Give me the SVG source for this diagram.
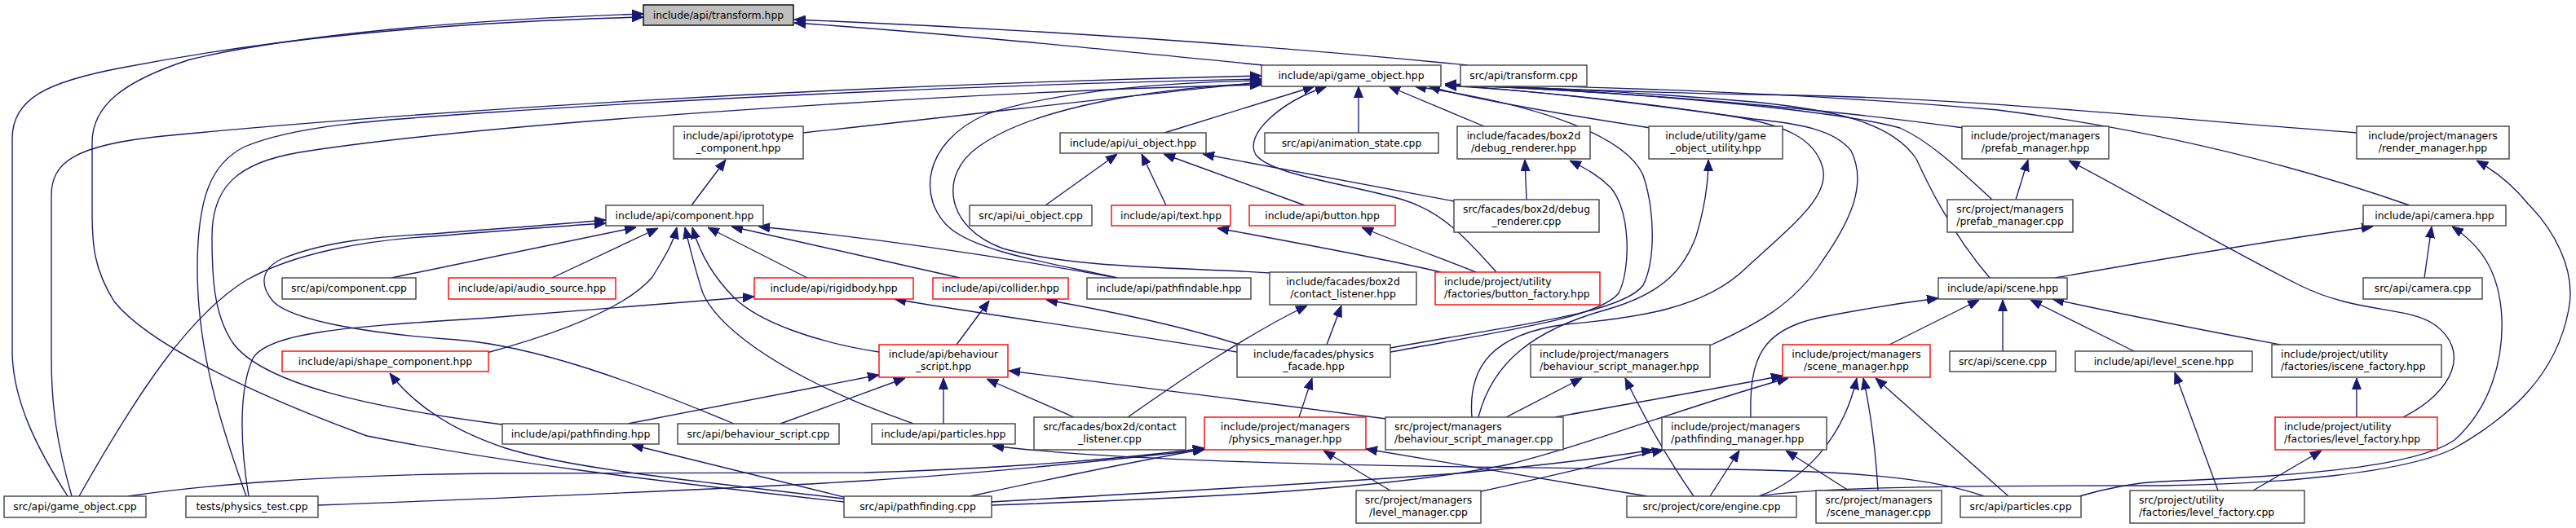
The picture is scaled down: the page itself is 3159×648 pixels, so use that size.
<svg xmlns="http://www.w3.org/2000/svg" width="3159" height="648" viewBox="0 0 3159 648">
<style>
.node rect{fill:#ffffff;stroke:#404040;stroke-width:1.4}
.node.red rect{stroke:#ff0000}
.node.root rect{fill:#bfbfbf;stroke:#000000}
.node text{font-family:"DejaVu Sans","Liberation Sans",sans-serif;font-size:12.4px;fill:#000000;text-anchor:middle}
.node text.l{text-anchor:start}
.edges path{fill:none;stroke:#191970;stroke-width:1.35}
</style>
<defs>
<marker id="ah" viewBox="0 0 14 12" refX="14" refY="6" markerWidth="14" markerHeight="12" markerUnits="userSpaceOnUse" orient="auto">
<path d="M0,0.5 L14,6 L0,11.5 z" fill="#191970" stroke="#191970" stroke-width="1"/>
</marker>
</defs>
<rect width="3159" height="648" fill="#ffffff"/>
<g class="edges">
<path marker-end="url(#ah)" d="M1549,80 C1350,60 1150,40 974,28"/>
<path marker-end="url(#ah)" d="M1800,80 C1550,55 1250,35 974,24"/>
<path marker-end="url(#ah)" d="M83,609 C45,550 15,490 15,430 L15,170 C15,120 60,100 150,83 C320,50 520,28 789,21"/>
<path marker-end="url(#ah)" d="M1035,616 C800,590 600,565 450,535 C300,480 180,420 140,370 C115,330 113,300 113,260 L113,175 C113,130 150,100 233,73 C350,45 550,25 789,17"/>
<path marker-end="url(#ah)" d="M88,609 C70,545 63,500 63,440 L63,240 C63,200 90,178 200,167 C500,138 1000,105 1547,93"/>
<path marker-end="url(#ah)" d="M302,609 C270,520 242,430 242,330 C242,240 260,200 300,180 C360,155 450,148 600,138 C900,118 1250,103 1547,97"/>
<path marker-end="url(#ah)" d="M616,521 C450,500 320,470 285,420 C262,385 260,340 260,290 C260,230 290,200 367,187 C600,150 1200,112 1547,104"/>
<path marker-end="url(#ah)" d="M985,163 C1200,140 1400,115 1547,101"/>
<path marker-end="url(#ah)" d="M1370,341 C1300,325 1200,310 1165,280 C1125,245 1130,175 1210,140 C1300,110 1450,100 1547,99"/>
<path marker-end="url(#ah)" d="M1558,335 C1450,328 1320,330 1230,305 C1160,280 1150,215 1200,180 C1270,130 1420,108 1547,102"/>
<path marker-end="url(#ah)" d="M1428,163 L1612,106"/>
<path marker-end="url(#ah)" d="M1666,163 L1666,106"/>
<path marker-end="url(#ah)" d="M1820,155 L1703,106"/>
<path marker-end="url(#ah)" d="M1783,247 L1475,189"/>
<path marker-end="url(#ah)" d="M1835,334 C1800,295 1770,260 1720,245 C1650,225 1560,215 1540,190 C1525,165 1570,125 1627,106"/>
<path marker-end="url(#ah)" d="M2024,157 C1900,138 1800,120 1752,106"/>
<path marker-end="url(#ah)" d="M1705,427 C1850,400 1990,385 2015,350 C2030,320 2030,260 2015,215 C1995,170 1900,130 1735,106"/>
<path marker-end="url(#ah)" d="M1705,432 C1850,405 1960,390 1985,360 C2000,330 2000,260 1975,230 C1960,215 1945,207 1925,197"/>
<path marker-end="url(#ah)" d="M1813,512 C1830,445 1880,405 1970,380 C2040,360 2065,330 2080,290 C2092,250 2095,220 2095,196"/>
<path marker-end="url(#ah)" d="M1805,512 C1800,450 1830,410 1920,398 C2010,390 2090,378 2140,330 C2200,275 2245,240 2235,205 C2225,170 2190,153 2120,142 C1990,122 1860,110 1772,105"/>
<path marker-end="url(#ah)" d="M2097,424 C2150,400 2200,375 2235,320 C2270,270 2290,225 2270,185 C2250,160 2210,152 2150,146 C2000,125 1860,110 1772,104"/>
<path marker-end="url(#ah)" d="M2408,157 C2250,135 2000,112 1772,104"/>
<path marker-end="url(#ah)" d="M2443,245 C2410,215 2370,175 2330,157 C2250,135 2000,112 1772,104"/>
<path marker-end="url(#ah)" d="M2890,163 C2650,145 2400,118 2150,116 C1950,112 1850,106 1772,104"/>
<path marker-end="url(#ah)" d="M2955,252 C2820,205 2650,160 2450,135 C2200,113 1950,106 1772,103"/>
<path marker-end="url(#ah)" d="M2440,341 C2405,300 2375,250 2350,195 C2320,150 2250,135 2150,125 C2000,112 1850,106 1772,104"/>
<path marker-end="url(#ah)" d="M848,252 L890,196"/>
<path marker-end="url(#ah)" d="M480,341 L780,279"/>
<path marker-end="url(#ah)" d="M677,341 L807,280"/>
<path marker-end="url(#ah)" d="M597,433 C700,405 770,375 800,340 C815,315 825,300 830,279"/>
<path marker-end="url(#ah)" d="M1120,520 C1080,505 1050,495 1000,470 C940,440 880,400 862,360 C852,330 845,300 840,279"/>
<path marker-end="url(#ah)" d="M1078,432 C1000,420 930,395 900,365 C875,340 858,310 849,279"/>
<path marker-end="url(#ah)" d="M990,341 L868,279"/>
<path marker-end="url(#ah)" d="M1177,341 L897,278"/>
<path marker-end="url(#ah)" d="M1370,341 C1200,310 1050,290 930,278"/>
<path marker-end="url(#ah)" d="M97,609 C170,480 230,390 300,345 C360,310 450,295 530,290 C620,283 690,277 743,274"/>
<path marker-end="url(#ah)" d="M900,520 C780,470 660,425 560,417 C460,410 360,395 335,370 C318,350 320,330 345,318 C400,295 470,290 530,287 C620,280 690,275 743,270"/>
<path marker-end="url(#ah)" d="M1282,252 L1370,189"/>
<path marker-end="url(#ah)" d="M1430,252 L1400,189"/>
<path marker-end="url(#ah)" d="M1600,252 L1427,189"/>
<path marker-end="url(#ah)" d="M1872,245 L1870,196"/>
<path marker-end="url(#ah)" d="M2472,245 L2487,196"/>
<path marker-end="url(#ah)" d="M1767,334 C1700,318 1600,300 1493,280"/>
<path marker-end="url(#ah)" d="M1810,334 C1770,318 1720,300 1670,279"/>
<path marker-end="url(#ah)" d="M1627,423 L1645,375"/>
<path marker-end="url(#ah)" d="M1383,512 C1450,465 1530,410 1603,375"/>
<path marker-end="url(#ah)" d="M1520,423 C1450,400 1350,380 1283,368"/>
<path marker-end="url(#ah)" d="M1517,432 C1350,405 1200,385 1097,367"/>
<path marker-end="url(#ah)" d="M305,609 C295,550 292,480 310,440 C330,405 450,400 600,390 C750,378 850,370 925,364"/>
<path marker-end="url(#ah)" d="M1173,423 L1213,369"/>
<path marker-end="url(#ah)" d="M1157,520 L1157,464"/>
<path marker-end="url(#ah)" d="M1317,512 L1210,465"/>
<path marker-end="url(#ah)" d="M770,520 L1078,460"/>
<path marker-end="url(#ah)" d="M957,520 L1110,464"/>
<path marker-end="url(#ah)" d="M1700,514 C1550,495 1380,472 1237,455"/>
<path marker-end="url(#ah)" d="M1593,512 L1609,464"/>
<path marker-end="url(#ah)" d="M1035,610 L775,546"/>
<path marker-end="url(#ah)" d="M1035,612 C850,590 700,575 620,550 C560,530 510,500 478,458"/>
<path marker-end="url(#ah)" d="M1190,609 C1300,585 1400,565 1477,551"/>
<path marker-end="url(#ah)" d="M157,609 C250,595 400,583 600,581 L1060,580 C1250,575 1400,560 1477,550"/>
<path marker-end="url(#ah)" d="M390,620 C600,612 900,600 1060,590 C1250,578 1400,560 1477,552"/>
<path marker-end="url(#ah)" d="M1705,602 L1623,553"/>
<path marker-end="url(#ah)" d="M2020,609 L1675,551"/>
<path marker-end="url(#ah)" d="M2433,609 C2380,590 2300,578 2100,576 C1800,574 1400,570 1217,547"/>
<path marker-end="url(#ah)" d="M1216,616 C1400,605 1600,595 1800,580 C1900,570 1980,560 2027,552"/>
<path marker-end="url(#ah)" d="M1216,620 C1500,610 1700,600 1850,570 C1950,545 2080,495 2193,464"/>
<path marker-end="url(#ah)" d="M1816,603 C1900,585 1980,565 2040,552"/>
<path marker-end="url(#ah)" d="M2097,609 L2133,553"/>
<path marker-end="url(#ah)" d="M2267,602 L2190,553"/>
<path marker-end="url(#ah)" d="M2077,609 C2050,570 2020,520 1993,464"/>
<path marker-end="url(#ah)" d="M1847,512 L1940,464"/>
<path marker-end="url(#ah)" d="M2157,609 C2210,590 2260,540 2277,464"/>
<path marker-end="url(#ah)" d="M2303,602 C2300,550 2295,510 2285,464"/>
<path marker-end="url(#ah)" d="M2463,609 L2300,464"/>
<path marker-end="url(#ah)" d="M1907,512 C2000,495 2100,478 2186,461"/>
<path marker-end="url(#ah)" d="M2317,423 L2427,368"/>
<path marker-end="url(#ah)" d="M2456,431 L2456,368"/>
<path marker-end="url(#ah)" d="M2617,431 L2490,368"/>
<path marker-end="url(#ah)" d="M2797,423 C2700,405 2600,385 2517,367"/>
<path marker-end="url(#ah)" d="M2147,512 C2145,440 2160,405 2230,390 C2290,378 2330,372 2377,366"/>
<path marker-end="url(#ah)" d="M2520,341 C2650,318 2800,293 2910,278"/>
<path marker-end="url(#ah)" d="M2973,341 L2982,278"/>
<path marker-end="url(#ah)" d="M2157,609 C2220,598 2400,596 2650,596 C2800,594 2950,580 3010,550 C3080,510 3135,460 3150,380 C3160,330 3130,280 3100,250 C3080,225 3060,210 3037,197"/>
<path marker-end="url(#ah)" d="M2550,609 C2580,600 2620,592 2650,591 C2800,585 2960,575 3010,540 C3055,500 3070,440 3068,390 C3065,330 3040,300 3007,278"/>
<path marker-end="url(#ah)" d="M2890,512 L2890,464"/>
<path marker-end="url(#ah)" d="M2947,512 C3010,480 3030,430 2985,398 C2950,375 2890,385 2820,350 C2720,300 2620,240 2537,197"/>
<path marker-end="url(#ah)" d="M2763,602 L2847,553"/>
<path marker-end="url(#ah)" d="M2720,602 L2667,457"/>
</g>
<g id="n_transform_hpp" class="node root"><rect x="789" y="6" width="184" height="25"/><text x="881" y="23">include/api/transform.hpp</text></g>
<g id="n_game_object_hpp" class="node"><rect x="1547" y="80" width="220" height="26"/><text x="1657" y="97">include/api/game_object.hpp</text></g>
<g id="n_transform_cpp" class="node"><rect x="1791" y="80" width="155" height="26"/><text x="1868.5" y="97">src/api/transform.cpp</text></g>
<g id="n_iprototype_component" class="node"><rect x="826" y="155" width="159" height="40"/><text x="905.5" y="171">include/api/iprototype</text><text x="905.5" y="186">_component.hpp</text></g>
<g id="n_ui_object_hpp" class="node"><rect x="1300" y="163" width="179" height="25"/><text x="1389.5" y="180">include/api/ui_object.hpp</text></g>
<g id="n_animation_state_cpp" class="node"><rect x="1551" y="163" width="213" height="25"/><text x="1657.5" y="180">src/api/animation_state.cpp</text></g>
<g id="n_debug_renderer_hpp" class="node"><rect x="1787" y="155" width="163" height="40"/><text x="1868.5" y="171">include/facades/box2d</text><text x="1868.5" y="186">/debug_renderer.hpp</text></g>
<g id="n_game_object_utility" class="node"><rect x="2022" y="155" width="164" height="40"/><text x="2104" y="171">include/utility/game</text><text x="2104" y="186">_object_utility.hpp</text></g>
<g id="n_prefab_manager_hpp" class="node"><rect x="2406" y="155" width="180" height="40"/><text x="2496" y="171">include/project/managers</text><text x="2496" y="186">/prefab_manager.hpp</text></g>
<g id="n_render_manager_hpp" class="node"><rect x="2890" y="155" width="187" height="40"/><text x="2983.5" y="171">include/project/managers</text><text x="2983.5" y="186">/render_manager.hpp</text></g>
<g id="n_component_hpp" class="node"><rect x="743" y="252" width="193" height="25"/><text x="839.5" y="269">include/api/component.hpp</text></g>
<g id="n_ui_object_cpp" class="node"><rect x="1189" y="252" width="150" height="25"/><text x="1264" y="269">src/api/ui_object.cpp</text></g>
<g id="n_text_hpp" class="node red"><rect x="1363" y="252" width="146" height="25"/><text x="1436" y="269">include/api/text.hpp</text></g>
<g id="n_button_hpp" class="node red"><rect x="1532" y="252" width="179" height="25"/><text x="1621.5" y="269">include/api/button.hpp</text></g>
<g id="n_debug_renderer_cpp" class="node"><rect x="1783" y="245" width="178" height="40"/><text x="1872" y="261">src/facades/box2d/debug</text><text x="1872" y="276">_renderer.cpp</text></g>
<g id="n_prefab_manager_cpp" class="node"><rect x="2388" y="245" width="154" height="40"/><text x="2465" y="261">src/project/managers</text><text x="2465" y="276">/prefab_manager.cpp</text></g>
<g id="n_camera_hpp" class="node"><rect x="2898" y="252" width="175" height="25"/><text x="2985.5" y="269">include/api/camera.hpp</text></g>
<g id="n_component_cpp" class="node"><rect x="346" y="341" width="164" height="26"/><text x="428" y="358">src/api/component.cpp</text></g>
<g id="n_audio_source_hpp" class="node red"><rect x="550" y="341" width="205" height="26"/><text x="652.5" y="358">include/api/audio_source.hpp</text></g>
<g id="n_rigidbody_hpp" class="node red"><rect x="925" y="341" width="195" height="26"/><text x="1022.5" y="358">include/api/rigidbody.hpp</text></g>
<g id="n_collider_hpp" class="node red"><rect x="1144" y="341" width="166" height="26"/><text x="1227" y="358">include/api/collider.hpp</text></g>
<g id="n_pathfindable_hpp" class="node"><rect x="1333" y="341" width="201" height="26"/><text x="1433.5" y="358">include/api/pathfindable.hpp</text></g>
<g id="n_contact_listener_hpp" class="node"><rect x="1557" y="334" width="180" height="40"/><text x="1647" y="350">include/facades/box2d</text><text x="1647" y="365">/contact_listener.hpp</text></g>
<g id="n_button_factory_hpp" class="node red"><rect x="1760" y="334" width="202" height="40"/><text class="l" x="1771" y="350">include/project/utility</text><text class="l" x="1771" y="365">/factories/button_factory.hpp</text></g>
<g id="n_scene_hpp" class="node"><rect x="2377" y="341" width="158" height="26"/><text x="2456" y="358">include/api/scene.hpp</text></g>
<g id="n_camera_cpp" class="node"><rect x="2898" y="341" width="146" height="26"/><text x="2971" y="358">src/api/camera.cpp</text></g>
<g id="n_shape_component_hpp" class="node red"><rect x="346" y="431" width="253" height="25"/><text x="472.5" y="448">include/api/shape_component.hpp</text></g>
<g id="n_behaviour_script_hpp" class="node red"><rect x="1078" y="423" width="158" height="40"/><text x="1157" y="439">include/api/behaviour</text><text x="1157" y="454">_script.hpp</text></g>
<g id="n_physics_facade_hpp" class="node"><rect x="1517" y="423" width="188" height="40"/><text x="1611" y="439">include/facades/physics</text><text x="1611" y="454">_facade.hpp</text></g>
<g id="n_behaviour_script_manager_hpp" class="node"><rect x="1877" y="423" width="220" height="40"/><text class="l" x="1888" y="439">include/project/managers</text><text class="l" x="1888" y="454">/behaviour_script_manager.hpp</text></g>
<g id="n_scene_manager_hpp" class="node red"><rect x="2186" y="423" width="181" height="40"/><text x="2276.5" y="439">include/project/managers</text><text x="2276.5" y="454">/scene_manager.hpp</text></g>
<g id="n_scene_cpp" class="node"><rect x="2391" y="431" width="130" height="25"/><text x="2456" y="448">src/api/scene.cpp</text></g>
<g id="n_level_scene_hpp" class="node"><rect x="2545" y="431" width="217" height="25"/><text x="2653.5" y="448">include/api/level_scene.hpp</text></g>
<g id="n_iscene_factory_hpp" class="node"><rect x="2786" y="423" width="208" height="40"/><text class="l" x="2797" y="439">include/project/utility</text><text class="l" x="2797" y="454">/factories/iscene_factory.hpp</text></g>
<g id="n_pathfinding_hpp" class="node"><rect x="616" y="520" width="192" height="25"/><text x="712" y="537">include/api/pathfinding.hpp</text></g>
<g id="n_behaviour_script_cpp" class="node"><rect x="831" y="520" width="198" height="25"/><text x="930" y="537">src/api/behaviour_script.cpp</text></g>
<g id="n_particles_hpp" class="node"><rect x="1069" y="520" width="176" height="25"/><text x="1157" y="537">include/api/particles.hpp</text></g>
<g id="n_contact_listener_cpp" class="node"><rect x="1268" y="512" width="186" height="40"/><text x="1361" y="528">src/facades/box2d/contact</text><text x="1361" y="543">_listener.cpp</text></g>
<g id="n_physics_manager_hpp" class="node red"><rect x="1477" y="512" width="198" height="40"/><text x="1576" y="528">include/project/managers</text><text x="1576" y="543">/physics_manager.hpp</text></g>
<g id="n_behaviour_script_manager_cpp" class="node"><rect x="1699" y="512" width="218" height="40"/><text class="l" x="1710" y="528">src/project/managers</text><text class="l" x="1710" y="543">/behaviour_script_manager.cpp</text></g>
<g id="n_pathfinding_manager_hpp" class="node"><rect x="2038" y="512" width="202" height="40"/><text class="l" x="2049" y="528">include/project/managers</text><text class="l" x="2049" y="543">/pathfinding_manager.hpp</text></g>
<g id="n_level_factory_hpp" class="node red"><rect x="2790" y="512" width="199" height="40"/><text class="l" x="2801" y="528">include/project/utility</text><text class="l" x="2801" y="543">/factories/level_factory.hpp</text></g>
<g id="n_game_object_cpp" class="node"><rect x="5" y="609" width="174" height="26"/><text x="92" y="626">src/api/game_object.cpp</text></g>
<g id="n_physics_test_cpp" class="node"><rect x="228" y="609" width="162" height="26"/><text x="309" y="626">tests/physics_test.cpp</text></g>
<g id="n_pathfinding_cpp" class="node"><rect x="1035" y="609" width="181" height="26"/><text x="1125.5" y="626">src/api/pathfinding.cpp</text></g>
<g id="n_level_manager_cpp" class="node"><rect x="1663" y="602" width="153" height="40"/><text x="1739.5" y="618">src/project/managers</text><text x="1739.5" y="633">/level_manager.cpp</text></g>
<g id="n_engine_cpp" class="node"><rect x="1995" y="609" width="208" height="26"/><text x="2099" y="626">src/project/core/engine.cpp</text></g>
<g id="n_scene_manager_cpp" class="node"><rect x="2227" y="602" width="154" height="40"/><text x="2304" y="618">src/project/managers</text><text x="2304" y="633">/scene_manager.cpp</text></g>
<g id="n_particles_cpp" class="node"><rect x="2404" y="609" width="148" height="26"/><text x="2478" y="626">src/api/particles.cpp</text></g>
<g id="n_level_factory_cpp" class="node"><rect x="2612" y="602" width="214" height="40"/><text class="l" x="2623" y="618">src/project/utility</text><text class="l" x="2623" y="633">/factories/level_factory.cpp</text></g>
</svg>
